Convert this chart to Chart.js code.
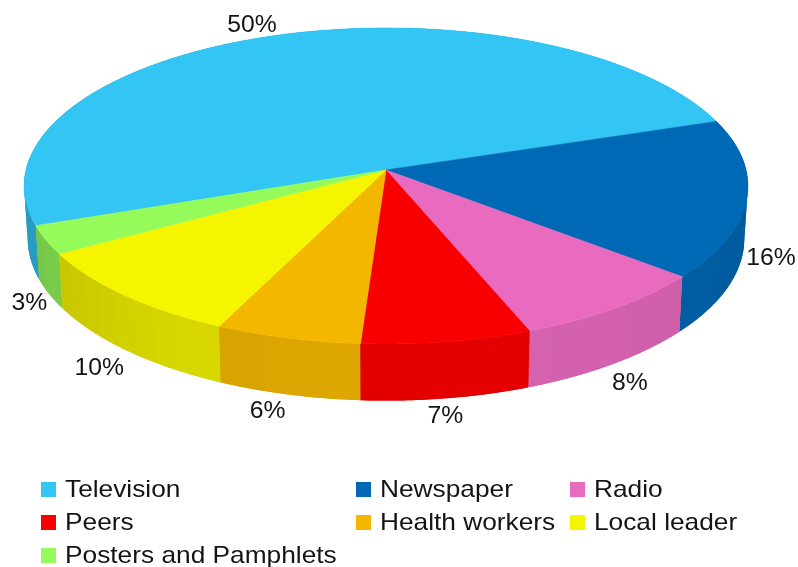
<!DOCTYPE html>
<html><head><meta charset="utf-8">
<script src="https://cdn.jsdelivr.net/npm/chart.js@4"></script>
<style>html,body{margin:0;padding:0;background:#fff}canvas{display:block}</style>
</head><body><canvas id="c" width="798" height="567"></canvas>
<script>
const categories = ['Television','Newspaper','Radio','Peers','Health workers','Local leader','Posters and Pamphlets'];
const shares = [50.4,16.2,8.1,6.9,5.9,9.6,2.9];
const percentLabels = ['50%','16%','8%','7%','6%','10%','3%'];
const colours = ['#33c5f3','#0069b5','#e96bbf','#f90000','#f4b700','#f5f500','#95fb5b'];
const labelNudges = [[-25,-10],[28,6],[17,19],[-1,18],[-21,17],[-28,18],[-20,9]];
const legendColumns = [41,356,570];
const legendRows = [489,522,555];
const legendGrid = [[0,0],[1,0],[2,0],[0,1],[1,1],[2,1],[0,2]];

const SX=360, SY=156.4, K=0.101, DEPTH=53, SHRINK=1.01;
const INK='#141414';

function shade(hex,f){
  const n=parseInt(hex.slice(1),16);
  return `rgb(${Math.round((n>>16&255)*f)},${Math.round((n>>8&255)*f)},${Math.round((n&255)*f)})`;
}
function wallLight(t){
  const c=Math.cos(t);
  return c<0 ? 0.91-0.13*c*c : 0.92-0.05*c*c;
}
function stretchedText(ctx,text,x,y,fx,align){
  ctx.save();ctx.translate(x,y);ctx.scale(fx,1);ctx.textAlign=align;ctx.fillText(text,0,0);ctx.restore();
}
const threeD = {
  id:'threeD',
  beforeDatasetsDraw(chart){
    const ctx=chart.ctx, arcs=chart.getDatasetMeta(0).data;
    const x0=arcs[0].x, y0=arcs[0].y;
    const top=t=>{const c=Math.cos(t),s=Math.sin(t),w=1-K*s;return [x0+SX*c/w,y0+SY*s/w];};
    const low=t=>{const c=Math.cos(t),s=Math.sin(t),w=(1-K*s)*SHRINK;return [x0+SX*c/w,y0+(SY*s+DEPTH)/w];};
    ctx.save();
    ctx.lineJoin='round';
    const wall=(t0,t1,steps,col)=>{
      ctx.beginPath();
      for(let j=0;j<=steps;j++){const p=top(t0+(t1-t0)*j/steps);j?ctx.lineTo(p[0],p[1]):ctx.moveTo(p[0],p[1]);}
      for(let j=steps;j>=0;j--){const p=low(t0+(t1-t0)*j/steps);ctx.lineTo(p[0],p[1]);}
      ctx.closePath();ctx.fillStyle=col;ctx.fill();
    };
    const order=arcs.map((a,i)=>i).sort((p,q)=>Math.sin((arcs[p].startAngle+arcs[p].endAngle)/2)-Math.sin((arcs[q].startAngle+arcs[q].endAngle)/2));
    order.forEach(i=>{
      const a=arcs[i], span=a.endAngle-a.startAngle, mid=(a.startAngle+a.endAngle)/2;
      const fine=Math.ceil(span/0.01);
      wall(a.startAngle,a.endAngle,fine,shade(colours[i],wallLight(mid)));
      const n=Math.max(1,Math.ceil(span/0.07));
      for(let j=0;j<n;j++){
        const t0=a.startAngle+span*j/n,t1=a.startAngle+span*(j+1)/n;
        wall(t0,t1,8,shade(colours[i],wallLight((t0+t1)/2)));
      }
    });
    arcs.forEach((a,i)=>{
      const n=Math.ceil((a.endAngle-a.startAngle)/0.01);
      ctx.beginPath();ctx.moveTo(x0,y0);
      for(let j=0;j<=n;j++){const p=top(a.startAngle+(a.endAngle-a.startAngle)*j/n);ctx.lineTo(p[0],p[1]);}
      ctx.closePath();
      ctx.fillStyle=colours[i];ctx.strokeStyle=colours[i];ctx.lineWidth=0.6;ctx.fill();ctx.stroke();
    });
    ctx.fillStyle=INK;ctx.font='24px "Liberation Sans"';ctx.textBaseline='middle';
    arcs.forEach((a,i)=>{
      const m=(a.startAngle+a.endAngle)/2;
      const p=Math.sin(m)<-0.3?top(m):low(m);
      stretchedText(ctx,percentLabels[i],p[0]+labelNudges[i][0],p[1]+labelNudges[i][1],1.03,'center');
    });
    ctx.font='24px "Liberation Sans"';
    categories.forEach((name,i)=>{
      const [cx,ry]=legendGrid[i];
      const lx=legendColumns[cx], ly=legendRows[ry];
      ctx.fillStyle=colours[i];ctx.fillRect(lx,ly-7,15,15);
      ctx.fillStyle=INK;stretchedText(ctx,name,lx+24,ly+1.5,1.095,'left');
    });
    ctx.restore();
    return false;
  }
};
new Chart(document.getElementById('c'),{
  type:'pie',
  data:{labels:categories,datasets:[{data:shares,backgroundColor:colours,borderWidth:0}]},
  options:{
    responsive:false,animation:false,rotation:249.9,
    layout:{padding:{left:0,right:26,top:0,bottom:227}},
    plugins:{legend:{display:false},tooltip:{enabled:false}}
  },
  plugins:[threeD]
});
</script></body></html>
